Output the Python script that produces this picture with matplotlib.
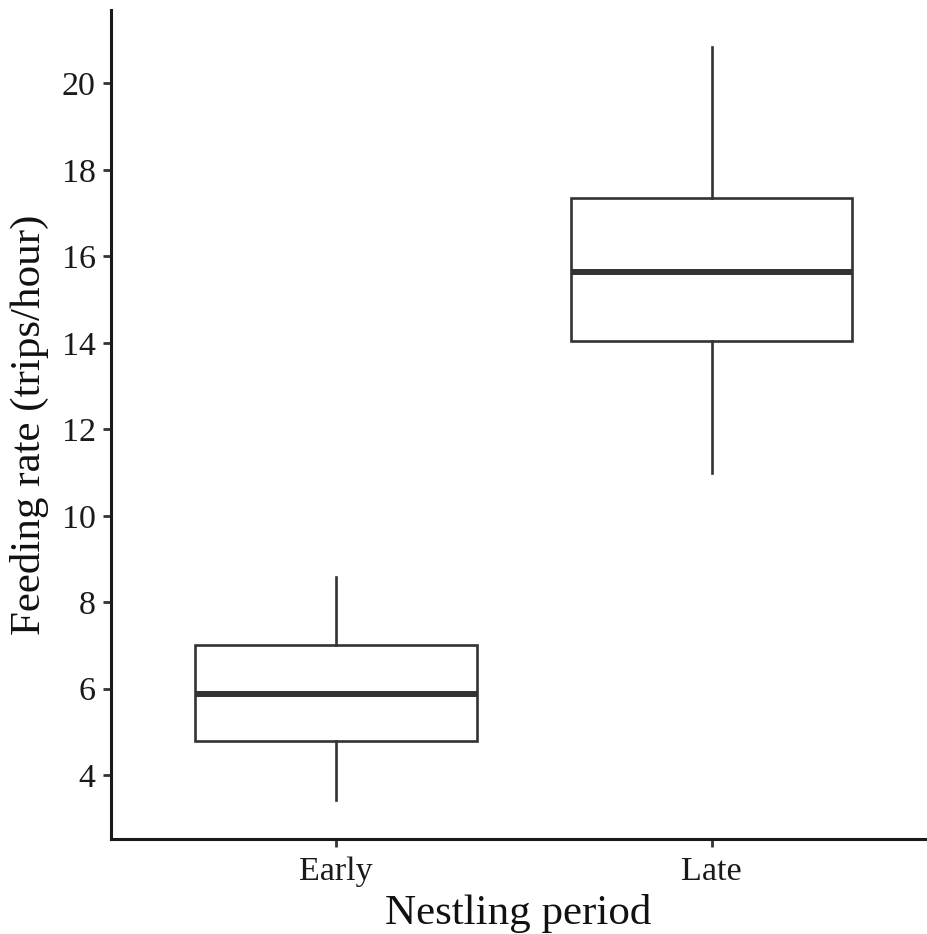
import matplotlib
matplotlib.use("Agg")
import matplotlib.pyplot as plt

categories = ["Early", "Late"]
whisker_low = [3.43, 10.98]
q1 = [4.79, 14.04]
median = [5.87, 15.64]
q3 = [7.02, 17.36]
whisker_high = [8.59, 20.84]
yticks = [4, 6, 8, 10, 12, 14, 16, 18, 20]

plt.rcParams['font.family'] = ['Liberation Serif', 'DejaVu Serif']

fig = plt.figure(figsize=(9.27, 9.34), dpi=100)
ax = fig.add_axes([0.1197, 0.102, 0.878, 0.8873])

stats = []
for i, c in enumerate(categories):
    stats.append(dict(label=c, whislo=whisker_low[i], q1=q1[i], med=median[i],
                      q3=q3[i], whishi=whisker_high[i], fliers=[]))

col = "#333333"
ax.bxp(stats, positions=[1, 2], widths=0.75, showcaps=False, showfliers=False,
       patch_artist=True,
       boxprops=dict(facecolor="white", edgecolor=col, linewidth=1.9),
       whiskerprops=dict(color=col, linewidth=1.9),
       medianprops=dict(color=col, linewidth=4.3, solid_capstyle='butt'))

ax.set_xlim(0.401, 2.568)
ax.set_ylim(2.53, 21.70)
ax.set_yticks(yticks)
ax.set_xticks([1, 2])
ax.set_xticklabels(categories)

for s in ["top", "right"]:
    ax.spines[s].set_visible(False)
for s in ["left", "bottom"]:
    ax.spines[s].set_linewidth(2.2)
    ax.spines[s].set_color("#1a1a1a")

ax.tick_params(axis="both", length=6, width=2.0, color="#333333",
               labelsize=24.5, labelcolor="#1a1a1a")
ax.tick_params(axis="y", pad=5)
ax.tick_params(axis="x", pad=7)

ax.set_xlabel("Nestling period", fontsize=31, color="#111111", labelpad=5)
ax.set_ylabel("Feeding rate (trips/hour)", fontsize=31, color="#111111", labelpad=9)

fig.savefig("out.png", dpi=100, facecolor="white")
